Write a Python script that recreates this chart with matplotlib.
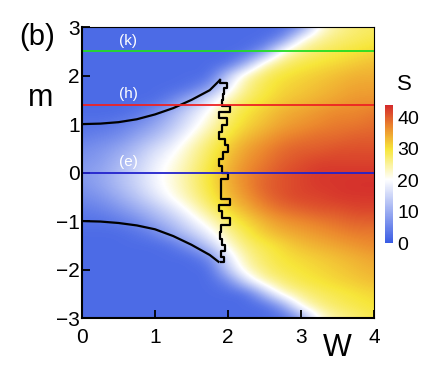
import numpy as np
import matplotlib
matplotlib.use("Agg")
import matplotlib.pyplot as plt
from matplotlib.colors import LinearSegmentedColormap

plt.rcParams['font.family'] = ['Liberation Sans', 'DejaVu Sans']

# ---- data ----
W_grid = [0, 0.25, 0.5, 0.75, 1.0, 1.25, 1.5, 1.75, 2.0, 2.25, 2.5, 2.75, 3.0, 3.25, 3.5, 3.75, 4.0]
m_grid = [3.0, 2.75, 2.5, 2.25, 2.0, 1.75, 1.5, 1.25, 1.0, 0.75, 0.5, 0.25, 0.0,
          -0.25, -0.5, -0.75, -1.0, -1.25, -1.5, -1.75, -2.0, -2.25, -2.5, -2.75, -3.0]
#          W: 0  .25 .5 .75  1 1.25 1.5 1.75 2 2.25 2.5 2.75 3 3.25 3.5 3.75 4
S_p300 = [2, 2, 2, 2, 2, 2, 2, 2, 2, 2, 2, 2, 6, 21, 25, 27, 28]
S_p275 = [2, 2, 2, 2, 2, 2, 2, 2, 2, 2, 2, 6, 21, 25, 27, 28, 29]
S_p250 = [2, 2, 2, 2, 2, 2, 2, 2, 2, 2, 7, 22, 26, 28, 29, 30, 31]
S_p225 = [2, 2, 2, 2, 2, 2, 2, 2, 2, 10, 23, 27, 29, 30, 31, 32, 33]
S_p200 = [2, 2, 2, 2, 2, 2, 2, 2, 14, 24, 28, 30, 31, 32, 33, 34, 34]
S_p175 = [2, 2, 2, 2, 2, 2, 3, 8, 18, 26, 29, 31, 32, 33, 34, 35, 35]
S_p150 = [2, 2, 2, 2, 2, 5, 11, 17, 24, 28, 30, 32, 33, 34, 35, 36, 36]
S_p125 = [2, 2, 2, 3, 6, 11, 16, 21, 27, 30, 32, 34, 35, 36, 37, 37, 38]
S_p100 = [3, 3, 4, 6, 9, 13, 18, 23, 28, 31, 33, 35, 36, 37, 38, 38, 39]
S_p075 = [4, 5, 6, 9, 12, 16, 21, 26, 30, 33, 35, 37, 38, 39, 39, 40, 40]
S_p050 = [6, 7, 9, 12, 16, 19, 24, 28, 32, 35, 37, 39, 40, 40, 41, 41, 41]
S_p025 = [7, 8, 11, 14, 18, 21, 25, 29, 33, 36, 38, 40, 41, 42, 42, 42, 42]
S_p000 = [8, 9, 12, 15, 19, 22, 26, 30, 34, 37, 39, 41, 42, 43, 43, 43, 43]
S_n025 = [7, 9, 12, 15, 19, 22, 26, 30, 34, 37, 40, 41, 42, 43, 43, 43.5, 43.5]
S_n050 = [6, 7, 10, 13, 17, 21, 25, 29, 33, 36, 39, 41, 42, 42, 43, 43, 43]
S_n075 = [4, 5, 7, 10, 13, 17, 22, 27, 31, 34, 37, 39, 40, 41, 41, 42, 42]
S_n100 = [3, 3, 4, 6, 10, 13, 18, 23, 28, 31, 34, 36, 37, 38, 39, 40, 40]
S_n125 = [2, 2, 2, 3, 5, 10, 14, 19, 25, 29, 32, 34, 35, 36, 37, 38, 38]
S_n150 = [2, 2, 2, 2, 2, 3, 8, 14, 22, 27, 29, 31, 33, 34, 35, 36, 37]
S_n175 = [2, 2, 2, 2, 2, 2, 2, 6, 17, 25, 28, 30, 31, 32, 33, 34, 35]
S_n200 = [2, 2, 2, 2, 2, 2, 2, 2, 14, 23, 27, 29, 30, 31, 32, 33, 34]
S_n225 = [2, 2, 2, 2, 2, 2, 2, 2, 5, 16, 24, 27, 29, 30, 31, 32, 33]
S_n250 = [2, 2, 2, 2, 2, 2, 2, 2, 2, 2, 12, 23, 26, 28, 29, 30, 31]
S_n275 = [2, 2, 2, 2, 2, 2, 2, 2, 2, 2, 2, 8, 22, 26, 28, 29, 30]
S_n300 = [2, 2, 2, 2, 2, 2, 2, 2, 2, 2, 2, 2, 7, 21, 25, 27, 29]
S_rows = [S_p300, S_p275, S_p250, S_p225, S_p200, S_p175, S_p150, S_p125, S_p100,
          S_p075, S_p050, S_p025, S_p000, S_n025, S_n050, S_n075, S_n100, S_n125,
          S_n150, S_n175, S_n200, S_n225, S_n250, S_n275, S_n300]

upper_W = [0, 0.25, 0.5, 0.75, 1.0, 1.25, 1.5, 1.75, 1.89]
upper_m = [1.0, 1.01, 1.04, 1.1, 1.2, 1.33, 1.5, 1.7, 1.91]
lower_W = [0, 0.25, 0.5, 0.75, 1.0, 1.25, 1.5, 1.75, 1.87]
lower_m = [-1.0, -1.01, -1.04, -1.09, -1.17, -1.31, -1.49, -1.7, -1.84]

jag_m = [1.91, 1.84, 1.74, 1.62, 1.5, 1.38, 1.26, 1.12, 0.98, 0.84, 0.7, 0.56, 0.42, 0.28,
         0.14, 0.0, -0.14, -0.28, -0.42, -0.54, -0.66, -0.8, -0.94, -1.08, -1.22, -1.36,
         -1.5, -1.62, -1.74, -1.84]
jag_W = [1.89, 1.98, 1.95, 1.93, 1.92, 2.03, 1.88, 1.98, 1.92, 1.87, 1.96, 2.0, 1.93, 1.88,
         1.92, 2.0, 1.9, 1.9, 1.91, 2.03, 1.87, 1.92, 2.03, 1.9, 1.89, 1.92, 1.96, 1.9,
         1.95, 1.9]

line_m = [2.5, 1.4, 0.0]
line_colors = ['#22dd22', '#ee2222', '#2222cc']
line_labels = ['(k)', '(h)', '(e)']

x_ticks = [0, 1, 2, 3, 4]
y_ticks = [-3, -2, -1, 0, 1, 2, 3]
cb_ticks = [0, 10, 20, 30, 40]

# ---- figure ----
fig = plt.figure(figsize=(4.23, 3.67), dpi=100)
ax = fig.add_axes([0.194, 0.1335, 0.690, 0.7925])

cmap = LinearSegmentedColormap.from_list(
    'bwyr', [(0.0, '#3a5ce4'), (0.46, '#ffffff'), (0.68, '#f7e63a'),
             (0.84, '#ec8a2e'), (1.0, '#d42a2c')])

S = np.array(S_rows, dtype=float)
dW = (W_grid[1] - W_grid[0]) / 2
dm = abs(m_grid[1] - m_grid[0]) / 2
im = ax.imshow(S, cmap=cmap, vmin=0, vmax=44, interpolation='bicubic',
               extent=[W_grid[0] - dW, W_grid[-1] + dW, m_grid[-1] - dm, m_grid[0] + dm],
               origin='upper', aspect='auto')

ax.plot(upper_W, upper_m, color='black', lw=1.6)
ax.plot(lower_W, lower_m, color='black', lw=1.6)

# staircase path of jagged line
xs, ys = [], []
for i in range(len(jag_m) - 1):
    xs += [jag_W[i], jag_W[i]]
    ys += [jag_m[i], jag_m[i + 1]]
xs.append(jag_W[-1]); ys.append(jag_m[-1])
ax.plot(xs, ys, color='black', lw=1.6)

for mv, c, lab in zip(line_m, line_colors, line_labels):
    ax.axhline(mv, color=c, lw=1.3)
    ax.text(0.63, mv + 0.22, lab, color='white', fontsize=11, ha='center', va='center')

ax.set_xlim(0, 4)
ax.set_ylim(-3, 3)
ax.set_xticks(x_ticks)
ax.set_yticks(y_ticks)
ax.tick_params(direction='in', length=6, width=1.3, labelsize=15, top=False, right=False)
ax.tick_params(axis='y', pad=1.5)
ax.tick_params(axis='x', pad=7)
for s in ['left', 'bottom']:
    ax.spines[s].set_linewidth(1.5)
for s in ['top', 'right']:
    ax.spines[s].set_linewidth(0.8)

fig.text(37 / 423, 1 - 37 / 367, '(b)', fontsize=21, ha='center', va='center')
fig.text(41 / 423, 1 - 98 / 367, 'm', fontsize=22, ha='center', va='center')
fig.text(337 / 423, 1 - 348 / 367, 'W', fontsize=22, ha='center', va='center')

cax = fig.add_axes([385 / 423, 1 - 243 / 367, 8 / 423, 138 / 367])
cb = fig.colorbar(im, cax=cax, ticks=cb_ticks)
cb.outline.set_visible(False)
cax.tick_params(length=0, labelsize=14, pad=3)
fig.text(404 / 423, 1 - 84 / 367, 'S', fontsize=16, ha='center', va='center')

fig.savefig('out.png', dpi=100)
